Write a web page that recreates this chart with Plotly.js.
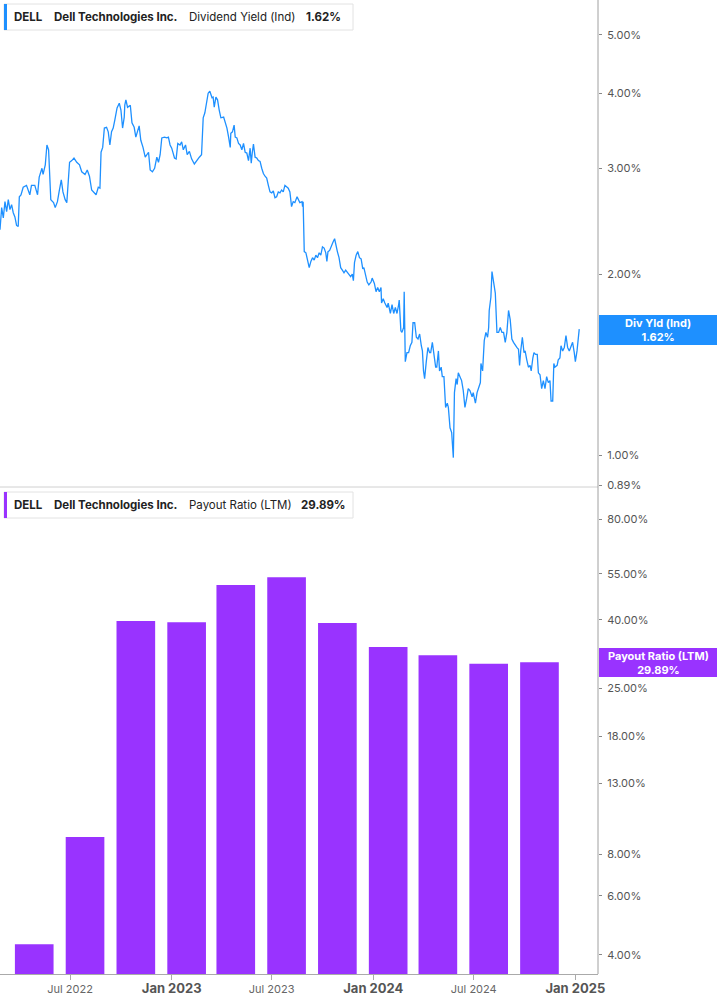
<!DOCTYPE html>
<html>
<head>
<meta charset="utf-8">
<script src="https://cdn.plot.ly/plotly-3.0.1.min.js"></script>
<style>
body{margin:0;background:#fff;}
#chart{width:717px;height:1005px;}
</style>
</head>
<body>
<div id="chart"></div>
<script>
// Dividend yield (Ind), %
let divDates = ['2022-02-24','2022-02-27','2022-03-02','2022-03-05','2022-03-08','2022-03-11','2022-03-14','2022-03-17','2022-03-20','2022-03-23','2022-03-26','2022-03-29',
'2022-03-31','2022-04-03','2022-04-07','2022-04-13','2022-04-19','2022-04-22','2022-04-28','2022-05-03','2022-05-06','2022-05-11','2022-05-13','2022-05-17',
'2022-05-20','2022-05-23','2022-05-27','2022-06-01','2022-06-04','2022-06-08','2022-06-11','2022-06-15','2022-06-18','2022-06-22','2022-06-25','2022-06-30',
'2022-07-04','2022-07-08','2022-07-13','2022-07-18','2022-07-22','2022-07-28','2022-08-01','2022-08-05','2022-08-09','2022-08-13','2022-08-17','2022-08-21',
'2022-08-24','2022-08-26','2022-08-29','2022-09-01','2022-09-05','2022-09-08','2022-09-11','2022-09-14','2022-09-17','2022-09-20','2022-09-24','2022-09-28',
'2022-10-01','2022-10-04','2022-10-07','2022-10-08','2022-10-10','2022-10-13','2022-10-18','2022-10-21','2022-10-25','2022-10-28','2022-10-31','2022-11-03',
'2022-11-06','2022-11-10','2022-11-14','2022-11-17','2022-11-20','2022-11-23','2022-11-27','2022-12-01','2022-12-05','2022-12-08','2022-12-11','2022-12-14','2022-12-19','2022-12-23','2022-12-26','2022-12-29',
'2023-01-01','2023-01-06','2023-01-09','2023-01-12','2023-01-16','2023-01-19','2023-01-22','2023-01-26','2023-01-29','2023-02-02','2023-02-06','2023-02-11','2023-02-15','2023-02-20','2023-02-24',
'2023-02-27','2023-03-02','2023-03-05','2023-03-08','2023-03-11','2023-03-15','2023-03-17','2023-03-19','2023-03-22','2023-03-25','2023-03-28','2023-03-31','2023-04-05','2023-04-08','2023-04-11','2023-04-14','2023-04-17',
'2023-04-18','2023-04-21','2023-04-24','2023-04-26','2023-04-29','2023-05-02','2023-05-05','2023-05-08','2023-05-11','2023-05-14','2023-05-17','2023-05-20','2023-05-23','2023-05-25','2023-05-27','2023-05-29','2023-06-01','2023-06-04','2023-06-07','2023-06-10',
'2023-06-13','2023-06-16','2023-06-19','2023-06-22','2023-06-25','2023-06-28','2023-07-01','2023-07-04','2023-07-07','2023-07-10','2023-07-13','2023-07-16','2023-07-19','2023-07-22','2023-07-25','2023-07-28','2023-07-31','2023-08-03',
'2023-08-06','2023-08-09','2023-08-12','2023-08-16','2023-08-18','2023-08-21','2023-08-25','2023-08-26','2023-08-27',
'2023-08-29','2023-09-01','2023-09-04','2023-09-07','2023-09-10','2023-09-13','2023-09-16','2023-09-19','2023-09-22','2023-09-25','2023-09-28','2023-10-01','2023-10-04','2023-10-07','2023-10-09','2023-10-11','2023-10-14','2023-10-17','2023-10-20','2023-10-23','2023-10-25','2023-10-28','2023-10-31',
'2023-11-03','2023-11-06','2023-11-09','2023-11-12','2023-11-15','2023-11-18','2023-11-21','2023-11-24','2023-11-26','2023-11-28','2023-12-01','2023-12-04','2023-12-07','2023-12-10','2023-12-13','2023-12-15','2023-12-18','2023-12-21','2023-12-24','2023-12-28','2023-12-30',
'2024-01-03','2024-01-06','2024-01-09','2024-01-12','2024-01-15','2024-01-16','2024-01-19','2024-01-22','2024-01-26','2024-01-28','2024-02-01','2024-02-04','2024-02-07','2024-02-10','2024-02-13','2024-02-16','2024-02-17','2024-02-20','2024-02-22','2024-02-25','2024-02-26',
'2024-02-28','2024-03-02','2024-03-05','2024-03-08','2024-03-11','2024-03-13','2024-03-16','2024-03-19','2024-03-22','2024-03-25','2024-03-28','2024-03-30','2024-04-01','2024-04-03','2024-04-06','2024-04-09','2024-04-12','2024-04-14','2024-04-17','2024-04-20','2024-04-23',
'2024-04-25','2024-04-28','2024-04-30','2024-05-03','2024-05-05','2024-05-08','2024-05-11','2024-05-14','2024-05-16','2024-05-19','2024-05-22','2024-05-25','2024-05-27','2024-05-30','2024-06-01','2024-06-03','2024-06-06','2024-06-09','2024-06-12','2024-06-15','2024-06-18','2024-06-21','2024-06-24','2024-06-28','2024-06-30','2024-07-04','2024-07-07','2024-07-09','2024-07-13',
'2024-07-14','2024-07-17','2024-07-20','2024-07-23','2024-07-26','2024-07-28','2024-07-29','2024-08-01','2024-08-03','2024-08-06','2024-08-09','2024-08-12','2024-08-15','2024-08-18','2024-08-21','2024-08-24','2024-08-27','2024-08-30','2024-09-02','2024-09-05','2024-09-08','2024-09-11','2024-09-14','2024-09-17','2024-09-20',
'2024-09-22','2024-09-24','2024-09-27','2024-09-30','2024-10-02','2024-10-05','2024-10-08','2024-10-11','2024-10-13','2024-10-16','2024-10-18','2024-10-21','2024-10-24','2024-10-26','2024-10-29','2024-11-01','2024-11-04','2024-11-07','2024-11-10','2024-11-13','2024-11-16','2024-11-18','2024-11-21',
'2024-11-23','2024-11-25','2024-11-29','2024-12-01','2024-12-04','2024-12-06','2024-12-09','2024-12-12','2024-12-15','2024-12-18','2024-12-21','2024-12-24','2024-12-27','2024-12-30','2025-01-01','2025-01-04','2025-01-07','2025-01-08']

let divYield = [2.37,2.58,2.48,2.64,2.54,2.66,2.56,2.61,2.53,2.49,2.41,2.40,
2.69,2.71,2.79,2.81,2.71,2.81,2.81,2.71,2.90,3.00,2.93,3.04,
3.28,3.22,2.66,2.63,2.58,2.64,2.74,2.87,2.74,2.66,2.63,3.07,
3.09,3.12,3.07,3.04,2.96,2.93,2.98,2.91,2.76,2.74,2.71,2.79,
2.78,3.19,3.25,3.50,3.51,3.45,3.28,3.45,3.50,3.61,3.78,3.85,
3.75,3.50,3.65,3.82,3.90,3.79,3.82,3.57,3.51,3.38,3.45,3.53,
3.34,3.25,3.13,3.16,3.19,2.98,2.96,3.00,3.13,3.07,3.16,3.37,3.38,3.37,3.38,3.28,
3.24,3.12,3.11,3.30,3.28,3.32,3.22,3.28,3.16,3.20,3.11,3.05,3.09,3.13,3.16,
3.64,3.71,3.87,4.00,4.03,3.93,3.94,3.79,3.94,3.90,3.75,3.64,3.65,3.57,3.50,3.38,3.25,
3.43,3.45,3.54,3.38,3.37,3.30,3.28,3.22,3.30,3.19,3.18,3.09,3.24,3.06,3.19,3.29,3.13,3.12,3.09,3.08,
3.00,2.94,2.91,2.89,2.81,2.74,2.73,2.75,2.68,2.69,2.74,2.73,2.76,2.74,2.81,2.79,2.78,2.74,
2.59,2.64,2.63,2.69,2.66,2.63,2.64,2.59,2.64,
2.18,2.17,2.11,2.05,2.10,2.13,2.11,2.15,2.13,2.17,2.15,2.22,2.21,2.17,2.10,2.18,2.19,2.23,2.26,2.29,2.23,2.18,2.13,
2.05,2.03,2.01,2.03,2.01,1.99,1.98,2.00,1.95,2.09,2.15,2.18,2.13,2.12,2.04,2.05,1.98,1.94,1.92,1.94,1.97,
1.93,1.87,1.90,1.87,1.90,1.79,1.82,1.79,1.76,1.79,1.72,1.78,1.72,1.76,1.72,1.78,1.81,1.61,1.60,1.63,1.87,
1.43,1.48,1.48,1.52,1.54,1.66,1.66,1.57,1.56,1.59,1.52,1.49,1.38,1.34,1.43,1.51,1.48,1.48,1.54,1.48,1.40,
1.40,1.49,1.38,1.40,1.35,1.35,1.20,1.22,1.20,1.11,1.09,0.99,1.27,1.34,1.31,1.37,1.35,1.33,1.28,1.20,1.24,1.29,1.28,1.25,1.27,1.22,1.27,1.29,1.32,
1.42,1.38,1.55,1.60,1.57,1.63,1.74,1.83,2.02,1.92,1.86,1.60,1.60,1.63,1.60,1.60,1.54,1.60,1.74,1.68,1.56,1.54,1.52,1.51,1.50,
1.41,1.49,1.57,1.48,1.49,1.44,1.40,1.41,1.38,1.45,1.48,1.47,1.47,1.37,1.36,1.29,1.33,1.29,1.35,1.32,1.33,1.23,1.23,
1.42,1.40,1.41,1.44,1.45,1.52,1.49,1.51,1.58,1.51,1.49,1.52,1.54,1.48,1.43,1.49,1.58,1.62]

// Payout ratio (LTM), % - one bar per fiscal quarter
let payDates = ['2022-04-27','2022-07-28','2022-10-28','2023-01-28','2023-04-27','2023-07-28','2023-10-28','2024-01-28','2024-04-27','2024-07-28','2024-10-28']
let payRatio = [4.31,9.0,39.7,39.4,50.9,53.7,39.2,33.2,31.4,29.6,29.89]

// axis ticks
let xTickVals = ['2022-07-01','2023-01-01','2023-07-01','2024-01-01','2024-07-01','2025-01-01']
let xTickText = ['Jul 2022','Jan 2023','Jul 2023','Jan 2024','Jul 2024','Jan 2025']
let topTickVals = [0.89,1,2,3,4,5]
let topTickText = ['0.89%','1.00%','2.00%','3.00%','4.00%','5.00%']
let botTickVals = [4,6,8,13,18,25,40,55,80]
let botTickText = ['4.00%','6.00%','8.00%','13.00%','18.00%','25.00%','40.00%','55.00%','80.00%']

let blue = '#1e90ff'
let purple = '#9933ff'

// plot area is 598 x 974 px, helpers to place paper things by pixel
let W = 598, H = 974
function px(x){ return x/W }
function py(y){ return (H-y)/H }

// bold, bigger label for January ticks
let xText = xTickText.map(function(t){
    if(t.indexOf('Jan')==0) return '<span style="font-size:13px;color:#555"><b>'+t+'</b></span>'
    return t
})

let lineTrace = {
    x:divDates,
    y:divYield,
    type:'scatter',
    mode:'lines',
    line:{color:blue,width:1.3},
    xaxis:'x',
    yaxis:'y2',
    hoverinfo:'skip'
}

let barTrace = {
    x:payDates,
    y:payRatio,
    type:'bar',
    width:70*86400000,
    marker:{color:purple,line:{width:0}},
    xaxis:'x',
    yaxis:'y',
    hoverinfo:'skip'
}

function legendBox(y0,y1,color){
    return [
        {type:'rect',xref:'paper',yref:'paper',x0:px(4),x1:px(353),y0:py(y0),y1:py(y1),line:{color:'#e2e2e2',width:1},fillcolor:'#fff'},
        {type:'rect',xref:'paper',yref:'paper',x0:px(4),x1:px(7),y0:py(y0),y1:py(y1),line:{width:0},fillcolor:color}
    ]
}

let shapes = [
    {type:'line',xref:'paper',yref:'paper',x0:0,x1:1,y0:0.5,y1:0.5,line:{color:'#d0d0d0',width:1}},
    {type:'line',xref:'paper',yref:'paper',x0:1,x1:1,y0:0,y1:1,line:{color:'#a0a0a0',width:1}},
    {type:'rect',xref:'paper',yref:'paper',x0:px(599),x1:px(717),y0:py(315),y1:py(345),line:{width:0},fillcolor:blue},
    {type:'rect',xref:'paper',yref:'paper',x0:px(599),x1:px(717),y0:py(648),y1:py(677),line:{width:0},fillcolor:purple}
].concat(legendBox(4,30,blue)).concat(legendBox(492,518,purple))

function txt(x,y,text,bold){
    return {xref:'paper',yref:'paper',x:px(x),y:py(y),xanchor:'left',yanchor:'middle',showarrow:false,
        text:bold ? '<b>'+text+'</b>' : text,font:{size:11.5,color:'#222',family:'Inter, Roboto, sans-serif'}}
}

let annotations = [
    txt(12,17,'DELL',true),
    txt(52,17,'Dell Technologies Inc.',true),
    txt(187,17,'Dividend Yield (Ind)',false),
    txt(304,17,'1.62%',true),
    txt(12,505,'DELL',true),
    txt(52,505,'Dell Technologies Inc.',true),
    txt(187,505,'Payout Ratio (LTM)',false),
    txt(299,505,'29.89%',true),
    {xref:'paper',yref:'paper',x:px(658),y:py(330),xanchor:'center',yanchor:'middle',showarrow:false,
     text:'<b>Div Yld (Ind)<br>1.62%</b>',font:{size:11,color:'#fff',family:'Inter, Roboto, sans-serif'}},
    {xref:'paper',yref:'paper',x:px(658),y:py(662.5),xanchor:'center',yanchor:'middle',showarrow:false,
     text:'<b>Payout Ratio (LTM)<br>29.89%</b>',font:{size:11,color:'#fff',family:'Inter, Roboto, sans-serif'}}
]

let yCommon = {
    type:'log',
    side:'right',
    anchor:'x',
    showgrid:false,
    zeroline:false,
    showline:false,
    ticks:'outside',
    ticklen:3,
    tickcolor:'#888',
    tickfont:{size:11,color:'#555'},
    ticklabelstandoff:3,
    fixedrange:true
}

let layout = {
    width:717,
    height:1005,
    margin:{l:0,r:119,t:0,b:31},
    paper_bgcolor:'#fff',
    plot_bgcolor:'#fff',
    showlegend:false,
    font:{family:'Inter, Roboto, sans-serif'},
    xaxis:{
        type:'date',
        range:['2022-02-24','2025-02-11'],
        anchor:'y',
        showgrid:false,
        zeroline:false,
        showline:true,
        linecolor:'#aaa',
        ticks:'outside',
        ticklen:5,
        tickcolor:'#aaa',
        tickvals:xTickVals,
        ticktext:xText,
        tickfont:{size:11,color:'#666'},
        fixedrange:true
    },
    yaxis:Object.assign({},yCommon,{domain:[0,0.498],range:[0.5453,1.9932],tickvals:botTickVals,ticktext:botTickText}),
    yaxis2:Object.assign({},yCommon,{domain:[0.5,1],range:[-0.0532,0.7571],tickvals:topTickVals,ticktext:topTickText}),
    shapes:shapes,
    annotations:annotations
}

Plotly.newPlot('chart',[barTrace,lineTrace],layout,{displayModeBar:false,staticPlot:true})
</script>
</body>
</html>
